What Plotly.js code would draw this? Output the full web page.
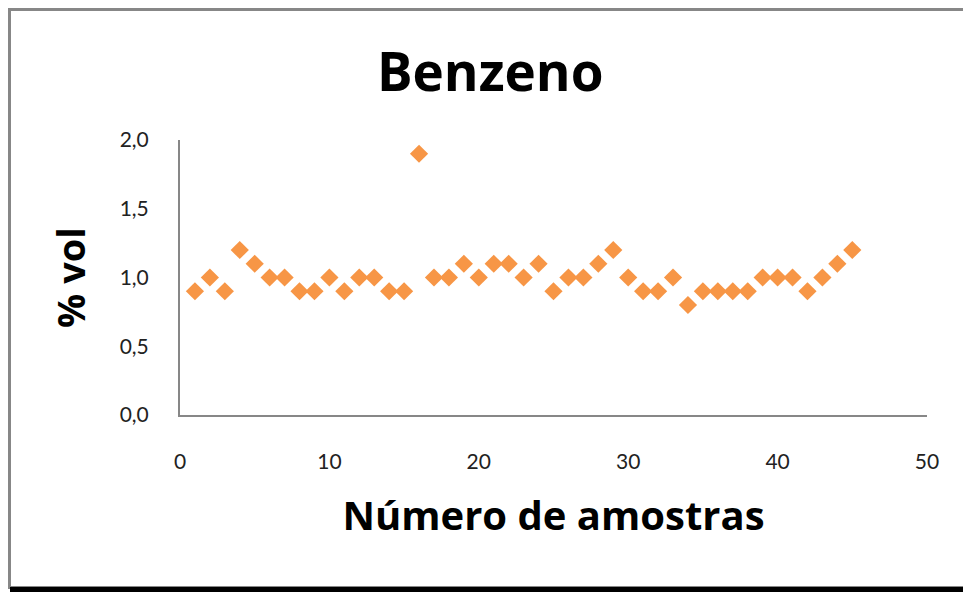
<!DOCTYPE html>
<html>
<head>
<meta charset="utf-8">
<script src="https://cdn.plot.ly/plotly-3.0.1.min.js"></script>
<style>
  html, body { margin: 0; padding: 0; background: #ffffff; }
  #wrap { position: relative; width: 963px; height: 592px; overflow: hidden; }
  #chart { width: 963px; height: 592px; }
  #frame { position: absolute; left: 8px; top: 8px; width: 1000px; height: 575px;
           border-left: 3px solid #878787; border-top: 3px solid #878787; border-bottom: 3px solid #878787;
           pointer-events: none; }
  #shadow { position: absolute; left: 10px; top: 587px; width: 1000px; height: 6px; background: #000; pointer-events: none; }
</style>
</head>
<body>
<div id="wrap">
  <div id="chart"></div>
  <div id="frame"></div>
  <div id="shadow"></div>
</div>
<script>
const chartTitle = "Benzeno";
const xTitle = "Número de amostras";
const yTitle = "% vol";
const amostras = [1,2,3,4,5,6,7,8,9,10,11,12,13,14,15,16,17,18,19,20,21,22,23,24,25,26,27,28,29,30,31,32,33,34,35,36,37,38,39,40,41,42,43,44,45];
const benzeno = [0.9,1.0,0.9,1.2,1.1,1.0,1.0,0.9,0.9,1.0,0.9,1.0,1.0,0.9,0.9,1.9,1.0,1.0,1.1,1.0,1.1,1.1,1.0,1.1,0.9,1.0,1.0,1.1,1.2,1.0,0.9,0.9,1.0,0.8,0.9,0.9,0.9,0.9,1.0,1.0,1.0,0.9,1.0,1.1,1.2];

const trace = {
  x: amostras, y: benzeno, type: 'scatter', mode: 'markers',
  marker: { symbol: 'diamond', size: 14, color: '#F79646' },
  hoverinfo: 'x+y', showlegend: false
};

const titleFont = '"Open Sans", Lato, sans-serif';

const layout = {
  width: 963, height: 592,
  margin: { l: 180, r: 36, t: 140, b: 177 },
  paper_bgcolor: '#ffffff', plot_bgcolor: '#ffffff',
  separators: ',.',
  font: { family: 'Lato, "Open Sans", sans-serif', color: '#222' },
  title: { text: '<b>' + chartTitle + '</b>', x: 0.509, xanchor: 'center', y: 0.878, yanchor: 'middle',
           font: { size: 53, family: titleFont, color: '#000' } },
  xaxis: {
    range: [0, 50], tickvals: [0,10,20,30,40,50], tickformat: 'd',
    showline: true, linecolor: '#878787', linewidth: 2, showgrid: false, zeroline: false,
    ticks: '', ticklabelstandoff: 27,
    tickfont: { size: 21, color: '#222' },
    title: { text: '<b>' + xTitle + '</b>', standoff: 30, font: { size: 40, family: titleFont, color: '#000' } }
  },
  yaxis: {
    range: [0, 2], tickvals: [0, 0.5, 1.0, 1.5, 2.0], tickformat: '.1f',
    showline: true, linecolor: '#878787', linewidth: 2, showgrid: false, zeroline: false,
    ticks: '', ticklabelstandoff: 25,
    tickfont: { size: 21, color: '#222' },
    title: { text: '<b>' + yTitle + '</b>', standoff: 22, font: { size: 38, family: titleFont, color: '#000' } }
  }
};

Plotly.newPlot('chart', [trace], layout, { displayModeBar: false, staticPlot: true });
</script>
</body>
</html>
